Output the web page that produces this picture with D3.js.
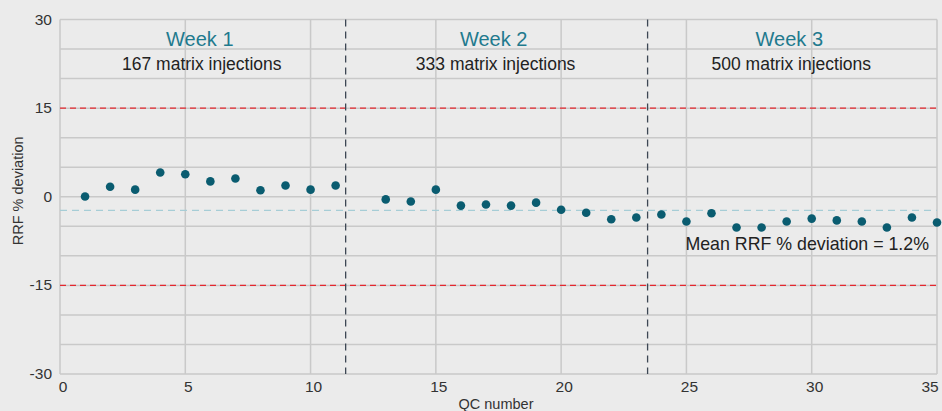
<!DOCTYPE html>
<html>
<head>
<meta charset="utf-8">
<script src="https://cdn.jsdelivr.net/npm/d3@7"></script>
<style>
  html, body { margin: 0; padding: 0; background: #ebebeb; }
  svg { display: block; font-family: "Liberation Sans", Arial, sans-serif; }
</style>
</head>
<body>
<svg width="942" height="411"></svg>
<script>

// QC number and RRF % deviation
const qcNumbers = [1, 2, 3, 4, 5, 6, 7, 8, 9, 10, 11,
                   13, 14, 15, 16, 17, 18, 19, 20, 21, 22, 23,
                   24, 25, 26, 27, 28, 29, 30, 31, 32, 33, 34, 35];
const deviations = [0.05, 1.7, 1.2, 4.1, 3.8, 2.6, 3.1, 1.1, 1.9, 1.2, 1.9,
                    -0.45, -0.8, 1.2, -1.5, -1.3, -1.5, -1.0, -2.2, -2.7, -3.8, -3.5,
                    -3.0, -4.2, -2.8, -5.2, -5.2, -4.2, -3.7, -4.0, -4.2, -5.2, -3.5, -4.35];

const yTickLabels = [30, 15, 0, -15, -30];
const limits = [15, -15];
const meanLine = -2.3;
const weekBreaks = [11.4, 23.45];
const weekNames = ["Week 1", "Week 2", "Week 3"];
const weekInjections = ["167 matrix injections", "333 matrix injections", "500 matrix injections"];

const svg = d3.select("svg");
const margin = {top: 19.5, right: 5, bottom: 37, left: 60};
const width = 942, height = 411;

const x = d3.scaleLinear().domain([0, 35]).range([margin.left, width - margin.right]);
const y = d3.scaleLinear().domain([-30, 30]).range([height - margin.bottom, margin.top]);

const grid = "#c9c9c9";

// horizontal gridlines every 5
svg.append("g")
    .selectAll("line")
    .data(d3.range(-25, 31, 5))
    .join("line")
    .attr("x1", x(0)).attr("x2", x(35))
    .attr("y1", d => y(d)).attr("y2", d => y(d))
    .attr("stroke", grid).attr("stroke-width", 1.5);

// vertical gridlines every 5
svg.append("g")
    .selectAll("line")
    .data(d3.range(5, 36, 5))
    .join("line")
    .attr("x1", d => x(d)).attr("x2", d => x(d))
    .attr("y1", y(30)).attr("y2", y(-30))
    .attr("stroke", grid).attr("stroke-width", 1.5);

// axis lines
svg.append("line")
    .attr("x1", x(0)).attr("x2", x(0))
    .attr("y1", y(30)).attr("y2", y(-30))
    .attr("stroke", grid).attr("stroke-width", 1.5);
svg.append("line")
    .attr("x1", x(0)).attr("x2", x(35))
    .attr("y1", y(-30)).attr("y2", y(-30))
    .attr("stroke", grid).attr("stroke-width", 1.5);

// y tick labels
svg.append("g")
    .selectAll("text")
    .data(yTickLabels)
    .join("text")
    .attr("x", x(0) - 8)
    .attr("y", d => y(d) + 5)
    .attr("text-anchor", "end")
    .attr("font-size", 15.5)
    .attr("fill", "#333")
    .text(d => d);

// x tick labels
svg.append("g")
    .selectAll("text")
    .data(d3.range(0, 36, 5))
    .join("text")
    .attr("x", d => d === 35 ? x(d) - 7 : x(d) + 3)
    .attr("y", y(-30) + 18)
    .attr("text-anchor", "middle")
    .attr("font-size", 15.5)
    .attr("fill", "#333")
    .text(d => d);

// axis titles
svg.append("text")
    .attr("x", 496)
    .attr("y", 409)
    .attr("text-anchor", "middle")
    .attr("font-size", 14.5)
    .attr("fill", "#333")
    .text("QC number");

svg.append("text")
    .attr("transform", `translate(23, ${y(1)}) rotate(-90)`)
    .attr("text-anchor", "middle")
    .attr("font-size", 14.5)
    .attr("fill", "#333")
    .text("RRF % deviation");

// limit lines
svg.append("g")
    .selectAll("line")
    .data(limits)
    .join("line")
    .attr("x1", x(0)).attr("x2", x(35))
    .attr("y1", d => y(d)).attr("y2", d => y(d))
    .attr("stroke", "#e3282f").attr("stroke-width", 1.3)
    .attr("stroke-dasharray", "6,4");

// mean line
svg.append("line")
    .attr("x1", x(0)).attr("x2", x(35))
    .attr("y1", y(meanLine)).attr("y2", y(meanLine))
    .attr("stroke", "#a6cdd6").attr("stroke-width", 1.3)
    .attr("stroke-dasharray", "7,5");

// week separators
svg.append("g")
    .selectAll("line")
    .data(weekBreaks)
    .join("line")
    .attr("x1", d => x(d)).attr("x2", d => x(d))
    .attr("y1", y(30)).attr("y2", y(-30))
    .attr("stroke", "#3d4754").attr("stroke-width", 1.3)
    .attr("stroke-dasharray", "7,5");

// week labels
const bounds = [0, ...weekBreaks, 35];
const centers = weekNames.map((w, i) => (x(bounds[i]) + x(bounds[i + 1])) / 2);

svg.append("g")
    .selectAll("text")
    .data(weekNames)
    .join("text")
    .attr("x", (d, i) => centers[i] - 3)
    .attr("y", 46)
    .attr("text-anchor", "middle")
    .attr("font-size", 20)
    .attr("fill", "#1f7a8e")
    .text(d => d);

svg.append("g")
    .selectAll("text")
    .data(weekInjections)
    .join("text")
    .attr("x", (d, i) => centers[i] - 1)
    .attr("y", 69.5)
    .attr("text-anchor", "middle")
    .attr("font-size", 17.5)
    .attr("fill", "#222")
    .text(d => d);

// mean annotation
svg.append("text")
    .attr("x", 929)
    .attr("y", 250)
    .attr("text-anchor", "end")
    .attr("font-size", 17.8)
    .attr("fill", "#222")
    .text("Mean RRF % deviation = 1.2%");

// points
svg.append("g")
    .selectAll("circle")
    .data(qcNumbers)
    .join("circle")
    .attr("cx", d => x(d))
    .attr("cy", (d, i) => y(deviations[i]))
    .attr("r", 4.3)
    .attr("fill", "#0a5c70");

</script>
</body>
</html>
